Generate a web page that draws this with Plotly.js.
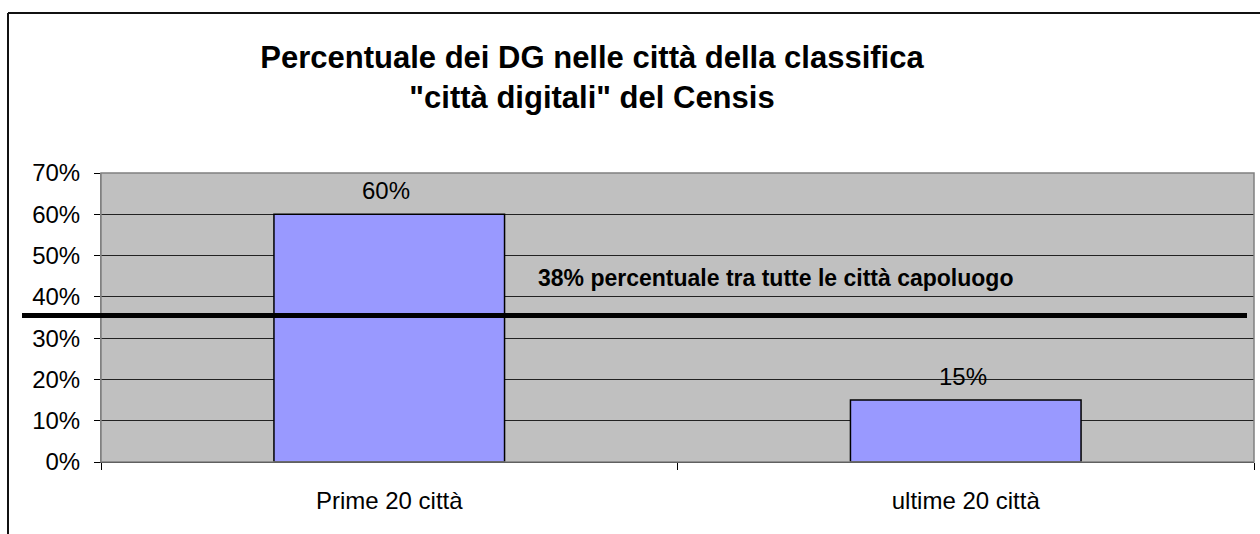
<!DOCTYPE html>
<html>
<head>
<meta charset="utf-8">
<script src="https://cdn.plot.ly/plotly-3.0.1.min.js"></script>
<style>html,body{margin:0;padding:0;background:#fff;}#chart{width:1260px;height:534px;}</style>
</head>
<body>
<div id="chart"></div>
<script>
const categories = ["Prime 20 città", "ultime 20 città"];
const values = [0.60, 0.15];
const referenceValue = 0.355;
const referenceLabel = "38% percentuale tra tutte le città capoluogo";
const yTickValues = [0, 0.1, 0.2, 0.3, 0.4, 0.5, 0.6, 0.7];
const titleLines = ["Percentuale dei DG nelle città della classifica", "\"città digitali\" del Censis"];

const FONT = "Liberation Sans, Arial, sans-serif";
const W = 1260, H = 534;
const margin = {l: 101, r: 6, t: 173, b: 72};
const plotW = W - margin.l - margin.r, plotH = H - margin.t - margin.b;
const px2x = p => (p - margin.l) / plotW;
const px2y = p => (H - margin.b - p) / plotH;

const trace = {
  type: "bar",
  x: categories,
  y: values,
  marker: {color: "#9999FF", line: {color: "#000000", width: 1.5}},
  hoverinfo: "skip"
};

const dataLabels = categories.map((c, i) => ({
  x: c, y: values[i], xref: "x", yref: "y",
  text: Math.round(values[i] * 100) + "%",
  showarrow: false, yanchor: "bottom", yshift: 8, xshift: -3,
  font: {family: FONT, size: 24, color: "#000"}
}));

const layout = {
  width: W, height: H,
  margin: margin,
  paper_bgcolor: "#ffffff",
  plot_bgcolor: "#C0C0C0",
  showlegend: false,
  bargap: 0.6,
  font: {family: FONT, color: "#000"},
  title: {
    text: titleLines.join("<br>"),
    font: {family: FONT, size: 31, color: "#000", weight: "bold"},
    x: 592 / W, xref: "container", xanchor: "center",
    y: 1 - 68 / H, yref: "container", yanchor: "middle"
  },
  xaxis: {
    type: "category",
    tickson: "boundaries",
    ticks: "outside", ticklen: 7, tickcolor: "#000", tickwidth: 1,
    showgrid: false,
    showline: true, linecolor: "#000", linewidth: 1,
    tickfont: {family: FONT, size: 24, color: "#000"},
    ticklabelstandoff: 17,
    fixedrange: true
  },
  yaxis: {
    range: [0, 0.7],
    tickvals: yTickValues,
    tickformat: ".0%",
    ticks: "outside", ticklen: 6, tickcolor: "#000", tickwidth: 1,
    showgrid: true, gridcolor: "#222", gridwidth: 1,
    showline: true, linecolor: "#808080", linewidth: 1,
    zeroline: false,
    tickfont: {family: FONT, size: 24, color: "#000"},
    ticklabelstandoff: 9,
    fixedrange: true
  },
  shapes: [
    {type: "rect", xref: "paper", yref: "paper", x0: 0, x1: 1, y0: 0, y1: 1,
     line: {color: "#808080", width: 1.5}, layer: "above"},
    {type: "line", xref: "paper", yref: "y", x0: px2x(22), x1: px2x(1247),
     y0: referenceValue, y1: referenceValue, line: {color: "#000", width: 5}, layer: "above"},
    {type: "line", xref: "paper", yref: "paper", x0: px2x(8), x1: px2x(1262),
     y0: px2y(13), y1: px2y(13), line: {color: "#111", width: 2}},
    {type: "line", xref: "paper", yref: "paper", x0: px2x(8), x1: px2x(8),
     y0: px2y(13), y1: px2y(540), line: {color: "#111", width: 2}}
  ],
  annotations: dataLabels.concat([
    {xref: "paper", yref: "paper", x: px2x(536), y: px2y(278), xanchor: "left", yanchor: "middle",
     text: "<b>" + referenceLabel + "</b>", showarrow: false,
     font: {family: FONT, size: 23, color: "#000"}}
  ])
};

Plotly.newPlot("chart", [trace], layout, {displayModeBar: false, staticPlot: true});
</script>
</body>
</html>
